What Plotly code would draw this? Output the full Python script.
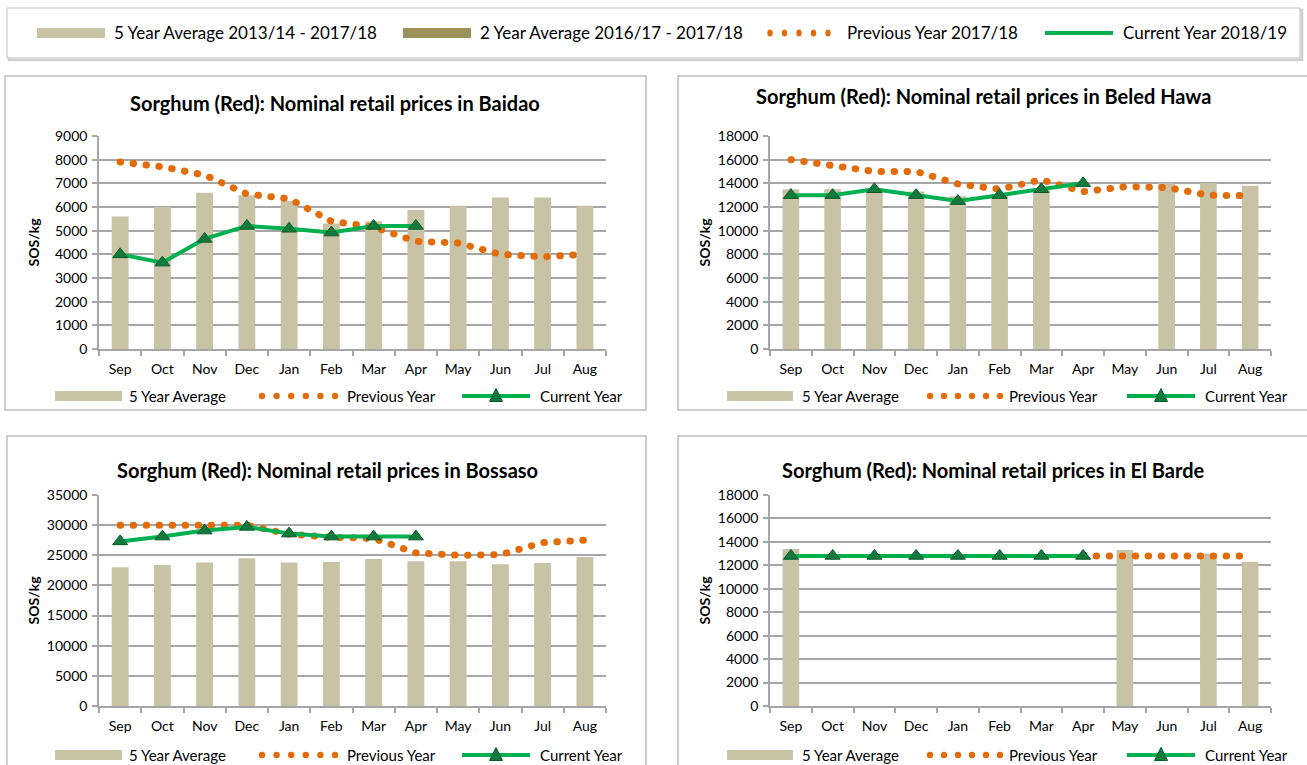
import plotly.graph_objects as go

W, H = 1307, 765

months = ["Sep", "Oct", "Nov", "Dec", "Jan", "Feb", "Mar", "Apr", "May", "Jun", "Jul", "Aug"]

# Baidao
baidao_avg5 = [5600, 6000, 6600, 6500, 6250, 5300, 5400, 5870, 6050, 6400, 6400, 6050]
baidao_prev = [7900, 7700, 7350, 6550, 6350, 5400, 5150, 4550, 4480, 4000, 3900, 4000]
baidao_curr = [4000, 3650, 4650, 5200, 5080, 4920, 5200, 5200, None, None, None, None]

# Beled Hawa
beled_avg5 = [13500, 13500, 13600, 13300, 12900, 13100, 13600, None, None, 14000, 14000, 13800]
beled_prev = [16000, 15550, 15000, 15000, 13950, 13500, 14300, 13300, 13700, 13650, 13000, 12950]
beled_curr = [13000, 13000, 13500, 13000, 12500, 13000, 13500, 14000, None, None, None, None]

# Bossaso
bossaso_avg5 = [23000, 23400, 23800, 24500, 23800, 23900, 24400, 24000, 24000, 23500, 23700, 24700]
bossaso_prev = [30000, 30000, 30000, 30000, 28500, 28000, 27800, 25400, 25000, 25100, 27100, 27500]
bossaso_curr = [27300, 28100, 29100, 29700, 28600, 28100, 28100, 28100, None, None, None, None]

# El Barde
elbarde_avg5 = [13400, None, None, None, None, None, None, None, 13300, None, 13000, 12300]
elbarde_prev = [None, None, None, None, None, None, None, 12800, 12800, 12800, 12800, 12800]
elbarde_curr = [12800, 12800, 12800, 12800, 12800, 12800, 12800, 12800, None, None, None, None]

titles = [
    "Sorghum (Red): Nominal retail prices in Baidao",
    "Sorghum (Red): Nominal retail prices in Beled Hawa",
    "Sorghum (Red): Nominal retail prices in Bossaso",
    "Sorghum (Red): Nominal retail prices in El Barde",
]
y_max = [9000, 18000, 35000, 18000]
y_dtick = [1000, 2000, 5000, 2000]

legend_top_labels = ["5 Year Average 2013/14 - 2017/18", "2 Year Average 2016/17 - 2017/18",
                     "Previous Year 2017/18", "Current Year 2018/19"]
panel_legend_labels = ["5 Year Average", "Previous Year", "Current Year"]

BAR = "#C9C3A6"
BAR2 = "#9C9159"
ORANGE = "#E36C0A"
GREEN = "#00B050"
TRI = "#117A3C"
GRID = "#A6A6A6"
FONT = "Lato, 'Open Sans', Arial, sans-serif"

data = [
    (baidao_avg5, baidao_prev, baidao_curr),
    (beled_avg5, beled_prev, beled_curr),
    (bossaso_avg5, bossaso_prev, bossaso_curr),
    (elbarde_avg5, elbarde_prev, elbarde_curr),
]

# pixel layout: (x0, x1, ytop, ybottom) for plot areas
areas = [(99, 606, 136, 349), (770, 1271, 136, 349), (99, 606, 495, 706), (770, 1271, 495, 706)]
boxes = [(5, 646, 76, 410), (678, 1312, 76, 410), (7, 646, 436, 770), (678, 1312, 436, 770)]
title_pos = [(335, 103), (983, 96), (327, 470), (993, 470)]
legend_y = [396, 396, 755, 755]
legend_x = [(55, 122, 127, 262, 335, 345, 462, 530, 538),
            (727, 793, 800, 930, 1000, 1007, 1127, 1195, 1203),
            (55, 122, 127, 262, 335, 345, 462, 530, 538),
            (727, 793, 800, 930, 1000, 1007, 1127, 1195, 1203)]


def px(x):
    return x / W


def py(y):
    return 1 - y / H


fig = go.Figure()
shapes = []
annotations = []

for i, (avg5, prev, curr) in enumerate(data):
    xa = "x" if i == 0 else f"x{i+1}"
    ya = "y" if i == 0 else f"y{i+1}"
    fig.add_trace(go.Bar(x=months, y=avg5, marker=dict(color=BAR, line=dict(width=0)),
                         width=0.4, xaxis=xa, yaxis=ya, showlegend=False, hoverinfo="skip"))
    fig.add_trace(go.Scatter(x=months, y=prev, mode="lines",
                             line=dict(color=ORANGE, width=7, dash="0.5px,12.5px"),
                             xaxis=xa, yaxis=ya, showlegend=False))
    fig.add_trace(go.Scatter(x=months, y=curr, mode="lines+markers",
                             line=dict(color=GREEN, width=4),
                             marker=dict(symbol="triangle-up", size=13, color=TRI,
                                         line=dict(color="#0A5A2A", width=1)),
                             xaxis=xa, yaxis=ya, showlegend=False, connectgaps=False))

    x0, x1, yt, yb = areas[i]
    axis_common = dict(showline=True, linecolor=GRID, linewidth=1.5, ticks="outside",
                       tickcolor=GRID, ticklen=5, tickwidth=1.5, automargin=False,
                       tickfont=dict(family=FONT, size=14, color="#000"))
    xkey = "xaxis" if i == 0 else f"xaxis{i+1}"
    ykey = "yaxis" if i == 0 else f"yaxis{i+1}"
    fig.update_layout({
        xkey: dict(domain=[px(x0), px(x1)], anchor=ya, type="category",
                   categoryorder="array", categoryarray=months, ticklabelstandoff=6,
                   tickson="boundaries", showgrid=False, range=[-0.5, 11.5], **axis_common),
        ykey: dict(domain=[py(yb), py(yt)], anchor=xa, range=[0, y_max[i]], dtick=y_dtick[i],
                   tickformat="d", ticklabelstandoff=2,
                   showgrid=True, gridcolor=GRID, gridwidth=1.5, zeroline=False, **axis_common),
    })

    # panel border
    bx0, bx1, by0, by1 = boxes[i]
    shapes.append(dict(type="rect", xref="paper", yref="paper", x0=px(bx0), x1=px(bx1),
                       y0=py(by1), y1=py(by0), line=dict(color="#BFBFBF", width=1.5),
                       layer="below"))
    # title
    tx, ty = title_pos[i]
    annotations.append(dict(text=f"<b>{titles[i]}</b>", x=px(tx), y=py(ty), xref="paper",
                            yref="paper", showarrow=False, xanchor="center", yanchor="middle",
                            font=dict(family=FONT, size=20, color="#000")))
    # y axis title
    annotations.append(dict(text="<b>SOS/kg</b>", x=px(x0 - 66), y=py((yt + yb) / 2),
                            xref="paper", yref="paper", showarrow=False, textangle=-90,
                            xanchor="center", yanchor="middle",
                            font=dict(family=FONT, size=14, color="#000")))
    # panel legend
    ly = legend_y[i]
    sx0, sx1, t1, dx0, dx1, t2, lx0, lx1, t3 = legend_x[i]
    shapes.append(dict(type="rect", xref="paper", yref="paper", x0=px(sx0), x1=px(sx1),
                       y0=py(ly + 5), y1=py(ly - 5), fillcolor=BAR, line=dict(width=0)))
    n = 6
    for k in range(n):
        cx = dx0 + k * (dx1 - dx0) / (n - 1)
        shapes.append(dict(type="circle", xref="paper", yref="paper", x0=px(cx - 3.2), x1=px(cx + 3.2),
                           y0=py(ly + 3.2), y1=py(ly - 3.2), fillcolor=ORANGE, line=dict(width=0)))
    shapes.append(dict(type="line", xref="paper", yref="paper", x0=px(lx0), x1=px(lx1),
                       y0=py(ly), y1=py(ly), line=dict(color=GREEN, width=4)))
    mx = (lx0 + lx1) / 2
    shapes.append(dict(type="path", xref="paper", yref="paper",
                       path=f"M {px(mx-6.5)},{py(ly+5.5)} L {px(mx+6.5)},{py(ly+5.5)} L {px(mx)},{py(ly-7.5)} Z",
                       fillcolor=TRI, line=dict(color="#0A5A2A", width=1)))
    for tx_, lab in zip([t1, t2, t3], panel_legend_labels):
        annotations.append(dict(text=lab, x=px(tx_), y=py(ly), xref="paper", yref="paper",
                                showarrow=False, xanchor="left", yanchor="middle",
                                font=dict(family=FONT, size=15, color="#000")))

# top legend box
shapes.append(dict(type="rect", xref="paper", yref="paper", x0=px(9), x1=px(1302),
                   y0=py(60), y1=py(10), line=dict(color="#D0D0D0", width=2.5), layer="below"))
shapes.append(dict(type="rect", xref="paper", yref="paper", x0=px(7), x1=px(1300),
                   y0=py(58), y1=py(8), line=dict(color="#BFBFBF", width=1), fillcolor="white",
                   layer="below"))
ty = 33
shapes.append(dict(type="rect", xref="paper", yref="paper", x0=px(37), x1=px(105),
                   y0=py(ty + 5), y1=py(ty - 5), fillcolor=BAR, line=dict(width=0)))
shapes.append(dict(type="rect", xref="paper", yref="paper", x0=px(403), x1=px(471),
                   y0=py(ty + 5), y1=py(ty - 5), fillcolor=BAR2, line=dict(width=0)))
for k in range(5):
    cx = 770 + k * 14.5
    shapes.append(dict(type="circle", xref="paper", yref="paper", x0=px(cx - 2.7), x1=px(cx + 2.7),
                       y0=py(ty + 3.5), y1=py(ty - 3.5), fillcolor=ORANGE, line=dict(width=0)))
shapes.append(dict(type="line", xref="paper", yref="paper", x0=px(1045), x1=px(1113),
                   y0=py(ty), y1=py(ty), line=dict(color=GREEN, width=4)))
for tx_, lab in zip([112, 478, 845, 1121], legend_top_labels):
    annotations.append(dict(text=lab, x=px(tx_), y=py(ty), xref="paper", yref="paper",
                            showarrow=False, xanchor="left", yanchor="middle",
                            font=dict(family=FONT, size=17, color="#000")))

fig.update_layout(width=W, height=H, autosize=False,
                  margin=dict(l=0, r=0, t=0, b=0, pad=0, autoexpand=False),
                  paper_bgcolor="white", plot_bgcolor="rgba(0,0,0,0)", showlegend=False,
                  shapes=shapes, annotations=annotations, bargap=0.6,
                  font=dict(family=FONT, color="#000"))

post = """
var gd = document.getElementById('{plot_id}');
document.documentElement.style.margin = '0';
document.documentElement.style.overflow = 'hidden';
document.body.style.margin = '0';
document.body.style.overflow = 'hidden';
gd.style.position = 'absolute';
gd.style.left = '0px';
gd.style.top = '0px';
gd.querySelectorAll('path.js-line').forEach(function (p) {
  var st = p.style.stroke || '';
  if (st.indexOf('227, 108, 10') >= 0) { p.style.strokeLinecap = 'round'; }
});
"""

fig.write_html("out.html", post_script=post, config={"displayModeBar": False})
